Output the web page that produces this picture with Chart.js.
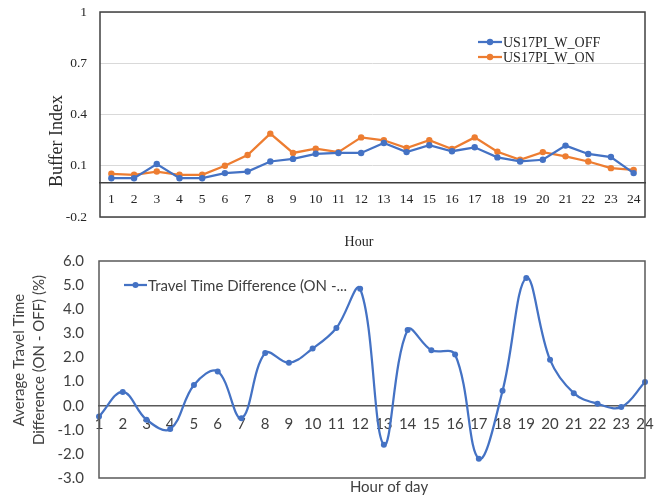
<!DOCTYPE html>
<html>
<head>
<meta charset="utf-8">
<script src="https://cdn.jsdelivr.net/npm/chart.js@4/dist/chart.umd.min.js"></script>
<style>
  html, body { margin: 0; padding: 0; background: #fff; }
  #wrap { position: relative; width: 657px; height: 500px; }
  #wrap canvas { position: absolute; left: 0; }
</style>
</head>
<body>
<div id="wrap">
  <canvas id="buffer" width="657" height="250" style="top:0"></canvas>
  <canvas id="diff" width="657" height="250" style="top:250px"></canvas>
</div>
<script>
// Hours of the day (x categories shared by both panels)
const hours = ['1','2','3','4','5','6','7','8','9','10','11','12',
               '13','14','15','16','17','18','19','20','21','22','23','24'];

// Buffer index per hour
const bufferOff = [0.027, 0.027, 0.110, 0.027, 0.027, 0.057, 0.066, 0.125, 0.140, 0.170, 0.175, 0.175,
                   0.233, 0.180, 0.220, 0.185, 0.208, 0.149, 0.125, 0.135, 0.218, 0.169, 0.151, 0.057];
const bufferOn  = [0.053, 0.047, 0.066, 0.047, 0.047, 0.100, 0.163, 0.288, 0.175, 0.200, 0.180, 0.266,
                   0.249, 0.204, 0.249, 0.198, 0.266, 0.182, 0.135, 0.180, 0.155, 0.125, 0.086, 0.076];
const bufferTicks = [-0.2, 0.1, 0.4, 0.7, 1];

// Average travel time difference (ON - OFF), percent
const travelDiff = [-0.45, 0.57, -0.58, -0.97, 0.86, 1.42, -0.52, 2.18, 1.78, 2.37, 3.22, 4.85,
                    -1.62, 3.14, 2.30, 2.12, -2.20, 0.62, 5.30, 1.90, 0.52, 0.08, -0.06, 0.98];
const diffTicks = [-3, -2, -1, 0, 1, 2, 3, 4, 5, 6];

const BLUE = '#4472C4';
const ORANGE = '#ED7D31';

// Box around the plot area
const framePlugin = {
  id: 'frame',
  afterDraw(chart, args, opts) {
    const { ctx, chartArea: a } = chart;
    ctx.save();
    ctx.strokeStyle = opts.color;
    ctx.lineWidth = opts.width;
    ctx.strokeRect(a.left, a.top, a.right - a.left, a.bottom - a.top);
    ctx.restore();
  }
};

// Free-standing axis captions
const captionPlugin = {
  id: 'captions',
  afterDraw(chart, args, opts) {
    const { ctx } = chart;
    (opts.items || []).forEach(it => {
      ctx.save();
      ctx.font = it.font;
      ctx.fillStyle = it.color;
      ctx.textAlign = 'center';
      ctx.textBaseline = 'middle';
      ctx.translate(it.x, it.y);
      if (it.rotate) ctx.rotate(it.rotate);
      const lines = Array.isArray(it.text) ? it.text : [it.text];
      lines.forEach((t, i) => ctx.fillText(t, 0, i * (it.lineHeight || 0)));
      ctx.restore();
    });
  }
};

// Legend with a short line and marker, placed inside the plot
const lineLegendPlugin = {
  id: 'lineLegend',
  afterDraw(chart, args, opts) {
    const { ctx } = chart;
    chart.data.datasets.forEach((ds, i) => {
      const y = opts.y + i * opts.rowHeight;
      ctx.save();
      ctx.strokeStyle = ds.borderColor;
      ctx.lineWidth = ds.borderWidth;
      ctx.beginPath();
      ctx.moveTo(opts.x, y);
      ctx.lineTo(opts.x + opts.lineLength, y);
      ctx.stroke();
      ctx.fillStyle = ds.borderColor;
      ctx.beginPath();
      ctx.arc(opts.x + opts.lineLength / 2, y, ds.pointRadius, 0, Math.PI * 2);
      ctx.fill();
      ctx.font = opts.font;
      ctx.fillStyle = opts.color;
      ctx.textAlign = 'left';
      ctx.textBaseline = 'middle';
      ctx.fillText(ds.label, opts.x + opts.lineLength + 1, y + 1);
      ctx.restore();
    });
  }
};

Chart.register(framePlugin, captionPlugin, lineLegendPlugin);

const serif = "'Liberation Serif', 'Times New Roman', serif";
const sans = "Lato, 'Open Sans', sans-serif";

// Fixed-width value axis whose end labels do not push the plot area inward
const fixedAxis = width => s => {
  s.width = width;
  s.paddingTop = 0;
  s.paddingBottom = 0;
};
// Category axis whose end labels may overhang the plot edges
const flushAxis = s => {
  s.paddingLeft = 0;
  s.paddingRight = 0;
};

// Upper panel: buffer index
new Chart(document.getElementById('buffer'), {
  type: 'line',
  data: {
    labels: hours,
    datasets: [
      { label: 'US17PI_W_OFF', data: bufferOff, borderColor: BLUE, backgroundColor: BLUE,
        borderWidth: 2.25, pointRadius: 3.2, pointBorderWidth: 0, tension: 0 },
      { label: 'US17PI_W_ON', data: bufferOn, borderColor: ORANGE, backgroundColor: ORANGE,
        borderWidth: 2.25, pointRadius: 3.2, pointBorderWidth: 0, tension: 0 }
    ]
  },
  options: {
    responsive: false,
    animation: false,
    devicePixelRatio: 1,
    layout: { padding: { left: 0, top: 12, right: 12, bottom: 33 } },
    plugins: {
      legend: { display: false },
      tooltip: { enabled: false },
      frame: { color: '#404040', width: 1.5 },
      lineLegend: { x: 478, y: 42, rowHeight: 15, lineLength: 24,
                    font: `14px ${serif}`, color: '#262626' },
      captions: { items: [
        { text: 'Buffer Index', x: 57, y: 141, rotate: -Math.PI / 2, font: `18px ${serif}`, color: '#262626' },
        { text: 'Hour', x: 359, y: 242, font: `14px ${serif}`, color: '#262626' }
      ] }
    },
    scales: {
      x: {
        type: 'category',
        position: { y: 0 },
        offset: true,
        afterFit: flushAxis,
        grid: { display: false, drawTicks: false },
        border: { display: true, color: '#404040', width: 1.5 },
        ticks: { font: { family: serif, size: 13.5 }, color: '#262626', padding: 9,
                 maxRotation: 0, autoSkip: false }
      },
      y: {
        min: -0.2, max: 1,
        afterBuildTicks: s => { s.ticks = bufferTicks.map(v => ({ value: v })); },
        afterFit: fixedAxis(100),
        grid: { color: '#d9d9d9', lineWidth: 1, drawTicks: false },
        border: { display: false },
        ticks: { font: { family: serif, size: 13.5 }, color: '#262626', padding: 13,
                 callback: v => String(Math.round(v * 10) / 10) }
      }
    }
  }
});

// Lower panel: travel time difference
new Chart(document.getElementById('diff'), {
  type: 'line',
  data: {
    labels: hours,
    datasets: [
      { label: 'Travel Time Difference (ON -...', data: travelDiff, borderColor: BLUE, backgroundColor: BLUE,
        borderWidth: 2.25, pointRadius: 3, pointBorderWidth: 0, tension: 0.38,
        cubicInterpolationMode: 'default' }
    ]
  },
  options: {
    responsive: false,
    animation: false,
    devicePixelRatio: 1,
    layout: { padding: { left: 0, top: 11, right: 12, bottom: 22 } },
    plugins: {
      legend: { display: false },
      tooltip: { enabled: false },
      frame: { color: '#595959', width: 1.5 },
      lineLegend: { x: 124, y: 35, rowHeight: 16, lineLength: 23,
                    font: `15px ${sans}`, color: '#404040' },
      captions: { items: [
        { text: ['Average Travel Time', 'Difference (ON - OFF) (%)'], x: 19, y: 110, lineHeight: 20,
          rotate: -Math.PI / 2, font: `15px ${sans}`, color: '#404040' },
        { text: 'Hour of day', x: 389, y: 237, font: `15px ${sans}`, color: '#404040' }
      ] }
    },
    scales: {
      x: {
        type: 'category',
        position: { y: 0 },
        offset: false,
        afterFit: flushAxis,
        grid: { display: false, drawTicks: false },
        border: { display: true, color: '#595959', width: 1.5 },
        ticks: { font: { family: sans, size: 15 }, color: '#404040', padding: 9,
                 maxRotation: 0, autoSkip: false }
      },
      y: {
        min: -3, max: 6,
        afterBuildTicks: s => { s.ticks = diffTicks.map(v => ({ value: v })); },
        afterFit: fixedAxis(99),
        grid: { display: false, drawTicks: false },
        border: { display: false },
        ticks: { font: { family: sans, size: 15 }, color: '#404040', padding: 15,
                 callback: v => Number(v).toFixed(1) }
      }
    }
  }
});
</script>
</body>
</html>
